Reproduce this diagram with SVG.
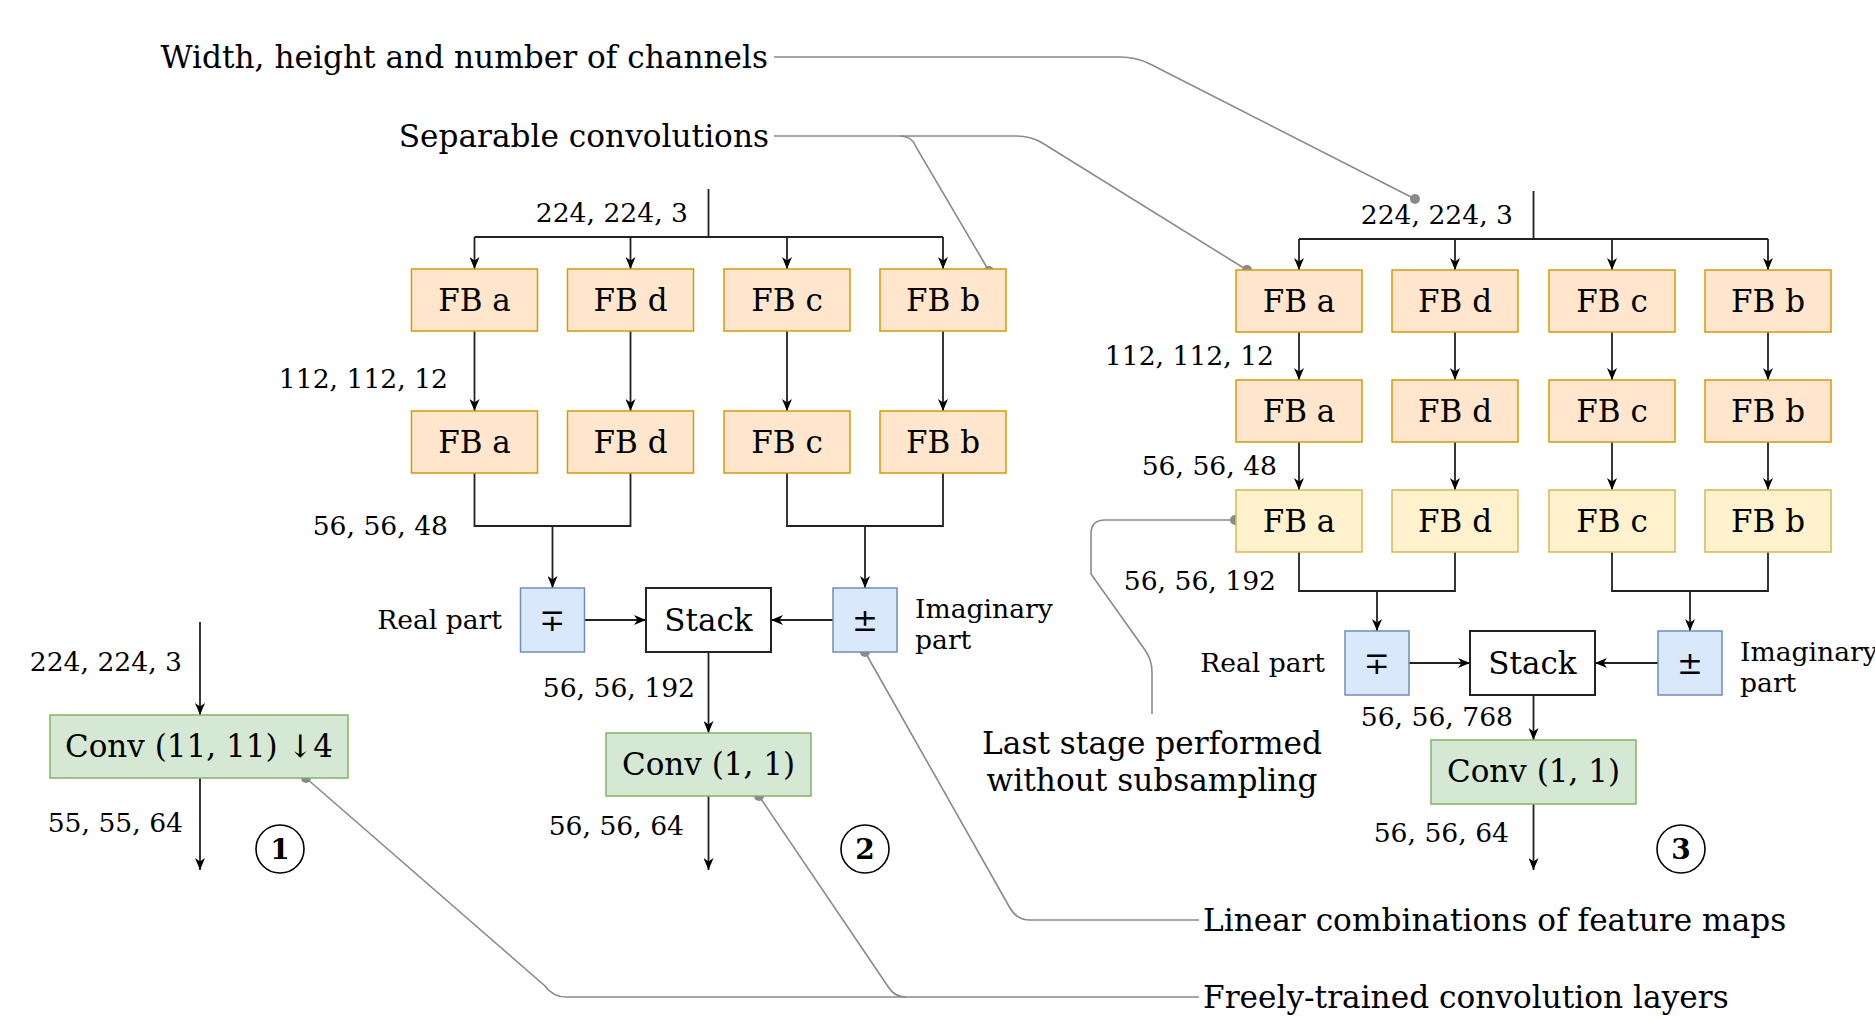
<svg xmlns="http://www.w3.org/2000/svg" width="1875" height="1019" viewBox="0 0 1875 1019">
  <style>
    text { font-family: "DejaVu Serif", "Liberation Serif", serif; fill: #000; }
    .node { font-size: 31px; }
    .dim { font-size: 26.6px; }
    .note { font-size: 31.2px; }
    .num { font-size: 28px; font-weight: bold; }
    .fb { fill: #ffe6cc; stroke: #d79b00; stroke-width: 1.5; }
    .fby { fill: #fff2cc; stroke: #d6b656; stroke-width: 1.5; }
    .op { fill: #dae8fc; stroke: #6c8ebf; stroke-width: 1.5; }
    .conv { fill: #d5e8d4; stroke: #82b366; stroke-width: 1.5; }
    .stack { fill: #fff; stroke: #222; stroke-width: 2; }
    .flow { fill: none; stroke: #222; stroke-width: 1.8; }
    .arr { marker-end: url(#head); }
    .note-line { fill: none; stroke: #8a8a8a; stroke-width: 1.6; }
    .dot { fill: #8a8a8a; }
    .ring { fill: #fff; stroke: #000; stroke-width: 1.6; }
  </style>
  <defs>
    <!-- classic notched arrowhead for the data-flow connectors -->
    <marker id="head" viewBox="0 0 12 10" refX="12" refY="5" markerWidth="12" markerHeight="10" markerUnits="userSpaceOnUse" orient="auto">
      <path d="M0,0 L12,5 L0,10 L3.5,5 z" fill="#000"/>
    </marker>
  </defs>

  <rect width="1875" height="1019" fill="#fff"/>

  <!-- connectors -->
  <g id="connectors">
    <!-- pipeline 1 -->
    <path class="flow arr" d="M200 622 V715"/>
    <path class="flow arr" d="M200 778 V870"/>

    <!-- pipeline 2: fan-out -->
    <path class="flow" d="M708.5 189 V237 M474.5 237 H943"/>
    <path class="flow arr" d="M474.5 237 V269"/>
    <path class="flow arr" d="M630.5 237 V269"/>
    <path class="flow arr" d="M787 237 V269"/>
    <path class="flow arr" d="M943 237 V269"/>
    <!-- row 1 to row 2 -->
    <path class="flow arr" d="M474.5 331 V411"/>
    <path class="flow arr" d="M630.5 331 V411"/>
    <path class="flow arr" d="M787 331 V411"/>
    <path class="flow arr" d="M943 331 V411"/>
    <!-- merges into real / imaginary parts -->
    <path class="flow" d="M474.5 473 V526 H630.5 V473"/>
    <path class="flow arr" d="M552.5 526 V588"/>
    <path class="flow" d="M787 473 V526 H943 V473"/>
    <path class="flow arr" d="M865 526 V588"/>
    <path class="flow arr" d="M584.5 620 H646"/>
    <path class="flow arr" d="M833 620 H771"/>
    <path class="flow arr" d="M708.5 652 V733"/>
    <path class="flow arr" d="M708.5 796 V870"/>

    <!-- pipeline 3: fan-out -->
    <path class="flow" d="M1533.5 191 V239 M1299 239 H1768"/>
    <path class="flow arr" d="M1299 239 V270"/>
    <path class="flow arr" d="M1455 239 V270"/>
    <path class="flow arr" d="M1612 239 V270"/>
    <path class="flow arr" d="M1768 239 V270"/>
    <path class="flow arr" d="M1299 332 V380"/>
    <path class="flow arr" d="M1455 332 V380"/>
    <path class="flow arr" d="M1612 332 V380"/>
    <path class="flow arr" d="M1768 332 V380"/>
    <path class="flow arr" d="M1299 442 V490"/>
    <path class="flow arr" d="M1455 442 V490"/>
    <path class="flow arr" d="M1612 442 V490"/>
    <path class="flow arr" d="M1768 442 V490"/>
    <path class="flow" d="M1299 552 V591 H1455 V552"/>
    <path class="flow arr" d="M1377 591 V631"/>
    <path class="flow" d="M1612 552 V591 H1768 V552"/>
    <path class="flow arr" d="M1690 591 V631"/>
    <path class="flow arr" d="M1409 663 H1470"/>
    <path class="flow arr" d="M1658 663 H1595"/>
    <path class="flow arr" d="M1533.5 695 V740"/>
    <path class="flow arr" d="M1533.5 804 V870"/>

    <!-- annotation leaders -->
    <path class="note-line" d="M774 57 H1120 Q1136 57 1150 64 L1415 199"/>
    <path class="note-line" d="M774 136 H900 Q912 136 916 147 L989 271"/>
    <path class="note-line" d="M900 136 H1016 Q1032 136 1044 144 L1247 270"/>
    <path class="note-line" d="M1235 520 H1105 Q1091 520 1091 534 V574 L1145 650 Q1152 660 1152 672 V714"/>
    <path class="note-line" d="M865 652 L1010 908 Q1017 920 1030 920 H1199"/>
    <path class="note-line" d="M306 778 L545 986 Q553 997 566 997 H1199"/>
    <path class="note-line" d="M759 796 L889 988 Q895 997 906 997"/>
    <circle class="dot" cx="1415" cy="199" r="5"/>
    <circle class="dot" cx="989" cy="271" r="5"/>
    <circle class="dot" cx="1247" cy="270" r="5"/>
    <circle class="dot" cx="1235" cy="520" r="5"/>
    <circle class="dot" cx="865" cy="652" r="5"/>
    <circle class="dot" cx="306" cy="778" r="5"/>
    <circle class="dot" cx="759" cy="796" r="5"/>
  </g>

  <!-- pipeline 1 -->
  <g id="p1-conv">
    <rect class="conv" x="50" y="715" width="298" height="63"/>
    <text class="node" x="199" y="757" text-anchor="middle">Conv (11, 11) ↓4</text>
  </g>
  <g id="p1-labels">
    <text class="dim" x="182" y="671" text-anchor="end">224, 224, 3</text>
    <text class="dim" x="183" y="832" text-anchor="end">55, 55, 64</text>
  </g>
  <g id="p1-num">
    <circle class="ring" cx="280" cy="849" r="24"/>
    <text class="num" x="280" y="859" text-anchor="middle">1</text>
  </g>

  <!-- pipeline 2 -->
  <g id="p2-fb1a"><rect class="fb" x="411.5" y="269" width="126" height="62"/><text class="node" x="474.5" y="311" text-anchor="middle">FB a</text></g>
  <g id="p2-fb1d"><rect class="fb" x="567.5" y="269" width="126" height="62"/><text class="node" x="630.5" y="311" text-anchor="middle">FB d</text></g>
  <g id="p2-fb1c"><rect class="fb" x="724" y="269" width="126" height="62"/><text class="node" x="787" y="311" text-anchor="middle">FB c</text></g>
  <g id="p2-fb1b"><rect class="fb" x="880" y="269" width="126" height="62"/><text class="node" x="943" y="311" text-anchor="middle">FB b</text></g>
  <g id="p2-fb2a"><rect class="fb" x="411.5" y="411" width="126" height="62"/><text class="node" x="474.5" y="453" text-anchor="middle">FB a</text></g>
  <g id="p2-fb2d"><rect class="fb" x="567.5" y="411" width="126" height="62"/><text class="node" x="630.5" y="453" text-anchor="middle">FB d</text></g>
  <g id="p2-fb2c"><rect class="fb" x="724" y="411" width="126" height="62"/><text class="node" x="787" y="453" text-anchor="middle">FB c</text></g>
  <g id="p2-fb2b"><rect class="fb" x="880" y="411" width="126" height="62"/><text class="node" x="943" y="453" text-anchor="middle">FB b</text></g>
  <g id="p2-real"><rect class="op" x="520.5" y="588" width="64" height="64"/><text class="node" x="552.5" y="631" text-anchor="middle">∓</text></g>
  <g id="p2-stack"><rect class="stack" x="646" y="588" width="125" height="64"/><text class="node" x="708.5" y="631" text-anchor="middle">Stack</text></g>
  <g id="p2-imag"><rect class="op" x="833" y="588" width="64" height="64"/><text class="node" x="865" y="631" text-anchor="middle">±</text></g>
  <g id="p2-conv"><rect class="conv" x="606" y="733" width="205" height="63"/><text class="node" x="708.5" y="775" text-anchor="middle">Conv (1, 1)</text></g>
  <g id="p2-labels">
    <text class="dim" x="688" y="222" text-anchor="end">224, 224, 3</text>
    <text class="dim" x="448" y="388" text-anchor="end">112, 112, 12</text>
    <text class="dim" x="448" y="535" text-anchor="end">56, 56, 48</text>
    <text class="dim" x="502" y="629" text-anchor="end">Real part</text>
    <text class="dim" x="915" y="618">Imaginary</text>
    <text class="dim" x="915" y="649">part</text>
    <text class="dim" x="695" y="697" text-anchor="end">56, 56, 192</text>
    <text class="dim" x="684" y="835" text-anchor="end">56, 56, 64</text>
  </g>
  <g id="p2-num">
    <circle class="ring" cx="865" cy="849" r="24"/>
    <text class="num" x="865" y="859" text-anchor="middle">2</text>
  </g>

  <!-- pipeline 3 -->
  <g id="p3-fb1a"><rect class="fb" x="1236" y="270" width="126" height="62"/><text class="node" x="1299" y="312" text-anchor="middle">FB a</text></g>
  <g id="p3-fb1d"><rect class="fb" x="1392" y="270" width="126" height="62"/><text class="node" x="1455" y="312" text-anchor="middle">FB d</text></g>
  <g id="p3-fb1c"><rect class="fb" x="1549" y="270" width="126" height="62"/><text class="node" x="1612" y="312" text-anchor="middle">FB c</text></g>
  <g id="p3-fb1b"><rect class="fb" x="1705" y="270" width="126" height="62"/><text class="node" x="1768" y="312" text-anchor="middle">FB b</text></g>
  <g id="p3-fb2a"><rect class="fb" x="1236" y="380" width="126" height="62"/><text class="node" x="1299" y="422" text-anchor="middle">FB a</text></g>
  <g id="p3-fb2d"><rect class="fb" x="1392" y="380" width="126" height="62"/><text class="node" x="1455" y="422" text-anchor="middle">FB d</text></g>
  <g id="p3-fb2c"><rect class="fb" x="1549" y="380" width="126" height="62"/><text class="node" x="1612" y="422" text-anchor="middle">FB c</text></g>
  <g id="p3-fb2b"><rect class="fb" x="1705" y="380" width="126" height="62"/><text class="node" x="1768" y="422" text-anchor="middle">FB b</text></g>
  <g id="p3-fb3a"><rect class="fby" x="1236" y="490" width="126" height="62"/><text class="node" x="1299" y="532" text-anchor="middle">FB a</text></g>
  <g id="p3-fb3d"><rect class="fby" x="1392" y="490" width="126" height="62"/><text class="node" x="1455" y="532" text-anchor="middle">FB d</text></g>
  <g id="p3-fb3c"><rect class="fby" x="1549" y="490" width="126" height="62"/><text class="node" x="1612" y="532" text-anchor="middle">FB c</text></g>
  <g id="p3-fb3b"><rect class="fby" x="1705" y="490" width="126" height="62"/><text class="node" x="1768" y="532" text-anchor="middle">FB b</text></g>
  <g id="p3-real"><rect class="op" x="1345" y="631" width="64" height="64"/><text class="node" x="1377" y="674" text-anchor="middle">∓</text></g>
  <g id="p3-stack"><rect class="stack" x="1470" y="631" width="125" height="64"/><text class="node" x="1532.5" y="674" text-anchor="middle">Stack</text></g>
  <g id="p3-imag"><rect class="op" x="1658" y="631" width="64" height="64"/><text class="node" x="1690" y="674" text-anchor="middle">±</text></g>
  <g id="p3-conv"><rect class="conv" x="1431" y="740" width="205" height="64"/><text class="node" x="1533.5" y="782" text-anchor="middle">Conv (1, 1)</text></g>
  <g id="p3-labels">
    <text class="dim" x="1513" y="224" text-anchor="end">224, 224, 3</text>
    <text class="dim" x="1274" y="365" text-anchor="end">112, 112, 12</text>
    <text class="dim" x="1277" y="475" text-anchor="end">56, 56, 48</text>
    <text class="dim" x="1276" y="590" text-anchor="end">56, 56, 192</text>
    <text class="dim" x="1325" y="672" text-anchor="end">Real part</text>
    <text class="dim" x="1740" y="661">Imaginary</text>
    <text class="dim" x="1740" y="692">part</text>
    <text class="dim" x="1513" y="726" text-anchor="end">56, 56, 768</text>
    <text class="dim" x="1509" y="842" text-anchor="end">56, 56, 64</text>
  </g>
  <g id="p3-num">
    <circle class="ring" cx="1681" cy="849" r="24"/>
    <text class="num" x="1681" y="859" text-anchor="middle">3</text>
  </g>

  <!-- annotations -->
  <g id="note-dims"><text class="note" x="768" y="68" text-anchor="end">Width, height and number of channels</text></g>
  <g id="note-separable"><text class="note" x="769" y="147" text-anchor="end">Separable convolutions</text></g>
  <g id="note-last-stage">
    <text class="note" x="1152" y="754" text-anchor="middle">Last stage performed</text>
    <text class="note" x="1152" y="791" text-anchor="middle">without subsampling</text>
  </g>
  <g id="note-linear"><text class="note" x="1203" y="931">Linear combinations of feature maps</text></g>
  <g id="note-free"><text class="note" x="1203" y="1008">Freely-trained convolution layers</text></g>
</svg>
